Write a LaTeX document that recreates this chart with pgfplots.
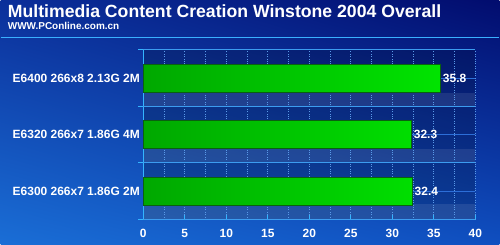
\documentclass[border=0pt]{standalone}
\usepackage{pgfplots}
\pgfplotsset{compat=1.18}
\usetikzlibrary{shadings}
\usepackage{fontspec}
\setmainfont{Liberation Sans}
\definecolor{ul}{HTML}{0B2F9A}
\definecolor{ur}{HTML}{020C6E}
\definecolor{ll}{HTML}{1A6ED6}
\definecolor{lr}{HTML}{0F4FC0}
\definecolor{sepline}{HTML}{3AB0FF}
\definecolor{axcol}{HTML}{33B5FF}
\definecolor{gridcol}{HTML}{5A9AE8}
\definecolor{bndcol}{HTML}{3C9CF0}
\definecolor{midcol}{HTML}{2C6ED8}
\definecolor{barL}{HTML}{00A800}
\definecolor{barR}{HTML}{00E400}
\definecolor{bardraw}{HTML}{0A6010}
\begin{document}
\begin{tikzpicture}[x=1pt,y=1pt]
\shade[upper left=ul, upper right=ur, lower left=ll, lower right=lr] (0,0) rectangle (500,245);
\draw[color=sepline, line width=1.5pt] (0,207.5) -- (500,207.5);
\node[anchor=base west, inner sep=0, text=white, font=\bfseries\fontsize{17.7}{18}\selectfont] at (7,227) {Multimedia Content Creation Winstone 2004 Overall};
\node[anchor=base west, inner sep=0, text=white, font=\bfseries\fontsize{10}{10}\selectfont] at (7,215.5) {WWW.PConline.com.cn};
% plot area bands
\fill[black, opacity=0.18] (143,25) rectangle (476,195);
\fill[white, opacity=0.09] (143,138) rectangle (476,152);
\fill[white, opacity=0.09] (143,82) rectangle (476,96);
\fill[white, opacity=0.09] (143,25) rectangle (476,40);
\begin{axis}[
  at={(143pt,25pt)}, anchor=south west,
  scale only axis, width=333pt, height=170pt,
  xmin=0, xmax=40, ymin=-0.5, ymax=2.5,
  axis lines*=left,
  axis line style={-, color=axcol, line width=1.5pt},
  xtick={0,5,...,40}, minor x tick num=1,
  ytick={0,1,2},
  yticklabels={E6300 266x7 1.86G 2M, E6320 266x7 1.86G 4M, E6400 266x8 2.13G 2M},
  x tick style={color=axcol, line width=1pt},
  xtick align=inside, major tick length=4pt, minor tick length=0pt,
  y tick style={draw=none},
  xmajorgrids, xminorgrids,
  x grid style={dotted, color=gridcol, line width=0.8pt},
  ymajorgrids,
  y grid style={color=midcol, line width=0.8pt},
  extra y ticks={-0.5,0.5,1.5,2.5},
  extra y tick labels={},
  extra y tick style={
    ytick align=outside, major tick length=5pt,
    y tick style={draw=axcol, line width=1.2pt},
    y grid style={solid, color=bndcol, line width=1pt},
  },
  ticklabel style={font=\bfseries\fontsize{12}{12}\selectfont, text=white},
  xticklabel style={yshift=-6pt},
  /pgf/number format/assume math mode=true,
  clip=false,
]
\addplot[xbar, bar width=28pt, draw=bardraw, line width=1pt,
  left color=barL, right color=barR,
  nodes near coords={\pgfmathprintnumber[fixed,fixed zerofill,precision=1]{\pgfplotspointmeta}},
  every node near coord/.append style={font=\bfseries\fontsize{12}{12}\selectfont, text=white, anchor=west, inner sep=1pt, xshift=1pt},
] coordinates {(32.4,0) (32.3,1) (35.8,2)};
\end{axis}
\end{tikzpicture}
\end{document}
